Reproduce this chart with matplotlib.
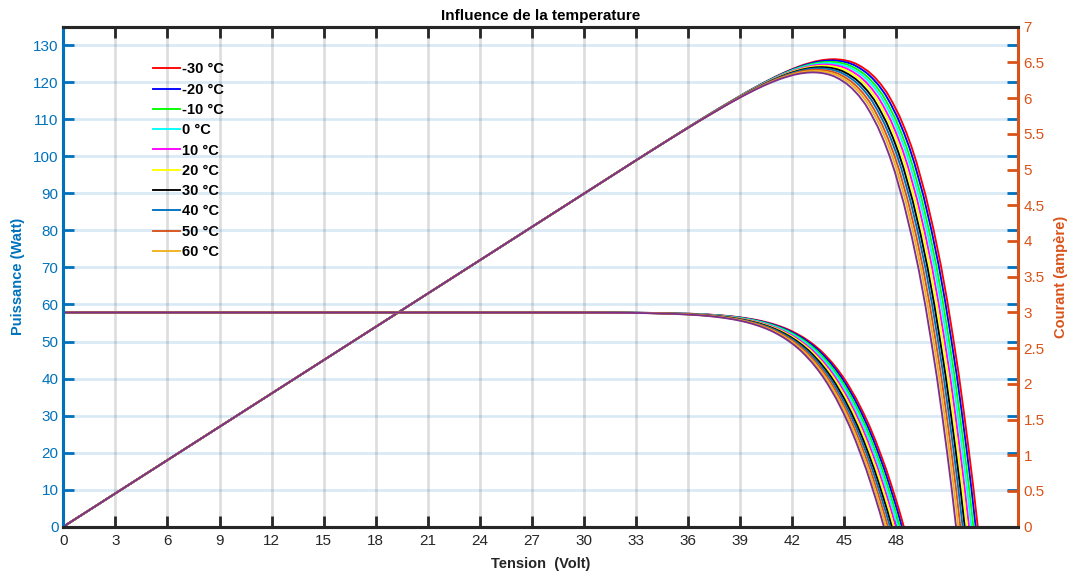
import matplotlib
matplotlib.use('Agg')
import matplotlib.pyplot as plt
import numpy as np
from matplotlib.ticker import FuncFormatter, FixedLocator

plt.rcParams['font.family'] = ['Liberation Sans', 'DejaVu Sans']

# ---------------- data ----------------
temps = [-30, -20, -10, 0, 10, 20, 30, 40, 50, 60, 70]
legend_count = 10   # the 70 °C curve is drawn but not in the legend
colors = ['#ff0000', '#0000ff', '#00ff00', '#00ffff', '#ff00ff', '#ffff00',
          '#000000', '#0072bd', '#d95319', '#edb120', '#7e2f8e']

# current levels (A, right axis) and the voltage where the -30 °C current curve reaches them
curr_levels = [3.0, 2.998, 2.995, 2.99, 2.98, 2.97, 2.96, 2.95, 2.94, 2.93, 2.92,
               2.90, 2.88, 2.86, 2.84, 2.82, 2.80, 2.77, 2.74, 2.70, 2.65, 2.60,
               2.54, 2.47, 2.40, 2.30, 2.20, 2.10, 2.00, 1.80, 1.60, 1.40, 1.20,
               1.00, 0.80, 0.60, 0.40, 0.20, 0.00, -0.40]
volt_ref = [0.0, 31.28, 33.27, 34.77, 36.28, 37.16, 37.79, 38.28, 38.68, 39.02, 39.31,
            39.81, 40.21, 40.55, 40.85, 41.11, 41.35, 41.67, 41.95, 42.27, 42.63, 42.94,
            43.27, 43.61, 43.90, 44.28, 44.61, 44.91, 45.18, 45.66, 46.08, 46.46, 46.80,
            47.11, 47.41, 47.68, 47.94, 48.19, 48.42, 48.86]
# open-circuit voltage of each current curve (V)
voc_curr = [48.42, 48.31, 48.19, 48.08, 47.96, 47.85, 47.73, 47.62, 47.50, 47.39, 47.27]
# the power curves sit on a voltage axis stretched by this ratio (power zero ~52.7 V vs current zero ~48.4 V)
power_volt_ratio = 1.088

x_ticks = list(range(0, 49, 3))
yl_ticks = list(range(0, 131, 10))
yr_ticks = [0, 0.5, 1, 1.5, 2, 2.5, 3, 3.5, 4, 4.5, 5, 5.5, 6, 6.5, 7]

# ---------------- style ----------------
BLUE = (0.0, 0.447, 0.741)
ORANGE = (0.85, 0.325, 0.098)
DARK = (0.15, 0.15, 0.15)

W, H = 1079, 576
fig = plt.figure(figsize=(W / 100, H / 100), dpi=100)
L, R, T, B = 63.3, 1018.0, 26.7, 526.7
ax1 = fig.add_axes([L / W, 1 - B / H, (R - L) / W, (B - T) / H])
ax2 = ax1.twinx()

curr = np.array(curr_levels)
vref = np.array(volt_ref)
for i, (t, c) in enumerate(zip(temps, colors)):
    v = vref - (voc_curr[0] - voc_curr[i])
    vp = v * power_volt_ratio
    ax1.plot(vp, vp * curr, color=c, lw=1.35)
    ax2.plot(v, curr, color=c, lw=1.35,
             label=(f'{t} °C' if i < legend_count else '_nolegend_'))

ax1.set_xlim(0, 55)
ax1.set_ylim(0, 135)
ax2.set_ylim(0, 7)
ax1.xaxis.set_major_locator(FixedLocator(x_ticks))
ax1.yaxis.set_major_locator(FixedLocator(yl_ticks))
ax2.yaxis.set_major_locator(FixedLocator(yr_ticks))
ax2.yaxis.set_major_formatter(FuncFormatter(lambda val, pos: f'{val:g}'))

# grid
ax1.set_axisbelow(True)
ax1.yaxis.grid(True, color=BLUE, alpha=0.15, lw=2.0)
ax1.xaxis.grid(True, color=DARK, alpha=0.15, lw=2.0)

# ticks
ax1.tick_params(axis='y', direction='in', length=8, width=2, color=BLUE,
                labelcolor=BLUE, labelsize=11, left=True, right=True,
                labelright=False, pad=3.5)
ax1.tick_params(axis='x', direction='in', length=8, width=2, color=DARK,
                labelcolor=DARK, labelsize=11, top=True, bottom=True, pad=5)
ax2.tick_params(axis='y', direction='in', length=8, width=2, color=ORANGE,
                labelcolor=ORANGE, labelsize=11, pad=4)

# spines
for ax in (ax1, ax2):
    ax.spines['left'].set_color(BLUE)
    ax.spines['top'].set_color(DARK)
    ax.spines['bottom'].set_color(DARK)
    for s in ax.spines.values():
        s.set_linewidth(2.2)
ax1.spines['right'].set_visible(False)
ax2.spines['right'].set_color(ORANGE)

# labels
ax1.set_ylabel('Puissance (Watt)', color=BLUE, fontweight='bold', fontsize=10.5)
ax1.yaxis.set_label_coords((25 - L) / (R - L), 0.5)
ax2.set_ylabel('Courant (ampère)', color=ORANGE, fontweight='bold', fontsize=10.5)
ax2.yaxis.set_label_coords((1054 - L) / (R - L), 0.5)
ax1.set_xlabel('Tension  (Volt)', color=DARK, fontweight='bold', fontsize=10.5)
ax1.xaxis.set_label_coords(0.5, (B - 557) / (B - T))
ax1.set_title('Influence de la temperature', fontweight='bold', fontsize=11,
              color='black', y=(B - 20) / (B - T), pad=0)

leg = ax2.legend(loc='upper left', bbox_to_anchor=((153.3 - L) / (R - L), (B - 62.5) / (B - T)),
                 frameon=False, borderaxespad=0, borderpad=0, handlelength=1.8,
                 handletextpad=0.2, labelspacing=0.43,
                 prop={'weight': 'bold', 'size': 10.5})

fig.savefig('out.png', dpi=100)
